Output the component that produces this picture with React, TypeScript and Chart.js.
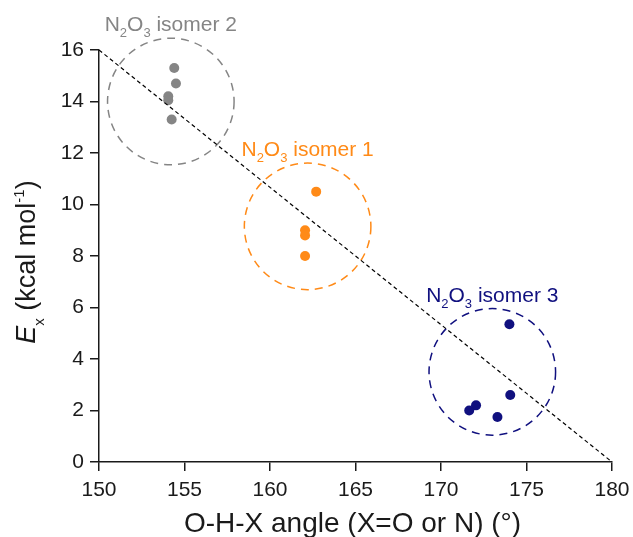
import React, { useEffect, useRef } from "react";
import { Chart, registerables } from "chart.js";

Chart.register(...registerables);

// ---- data ----
const isomer2X = [154.4, 154.5, 154.05, 154.05, 154.25];
const isomer2Y = [15.3, 14.7, 14.2, 14.05, 13.3];
const isomer1X = [162.7, 162.05, 162.05, 162.05];
const isomer1Y = [10.5, 9.0, 8.8, 8.0];
const isomer3X = [174.0, 174.05, 172.05, 171.65, 173.3];
const isomer3Y = [5.35, 2.6, 2.2, 2.0, 1.75];

const trendX = [150, 180];
const trendY = [16, 0];

const groupNames = ["isomer 2", "isomer 1", "isomer 3"];
const groupCenterX = [154.2, 162.2, 173.0];
const groupCenterY = [14.0, 9.15, 3.5];
const groupRadiusX = [3.7, 3.7, 3.7];

const xTitle = "O-H-X angle (X=O or N) (°)";

const GRAY = "#858585";
const ORANGE = "#ff8a17";
const NAVY = "#10107f";
const groupColors = [GRAY, ORANGE, NAVY];
const FONT = "'Liberation Sans', Arial, sans-serif";
const AXIS = "#1a1a1a";

const toPts = (xs: number[], ys: number[]) => xs.map((x, i) => ({ x, y: ys[i] }));

function drawSegments(ctx: CanvasRenderingContext2D, segs: { t: string; f: string; dy: number }[], x: number, y: number, centered: boolean) {
  let total = 0;
  for (const s of segs) {
    ctx.font = s.f;
    total += ctx.measureText(s.t).width;
  }
  let cx = centered ? x - total / 2 : x;
  for (const s of segs) {
    ctx.font = s.f;
    ctx.fillText(s.t, cx, y + s.dy);
    cx += ctx.measureText(s.t).width;
  }
}

const decorPlugin = {
  id: "decor",
  beforeDatasetsDraw(chart: any) {
    const { ctx, scales } = chart;
    const xs = scales.x, ys = scales.y;
    ctx.save();
    groupNames.forEach((name, i) => {
      const cx = xs.getPixelForValue(groupCenterX[i]);
      const cy = ys.getPixelForValue(groupCenterY[i]);
      const r = xs.getPixelForValue(groupCenterX[i] + groupRadiusX[i]) - cx;
      ctx.beginPath();
      ctx.setLineDash([8, 6]);
      ctx.lineWidth = 1.5;
      ctx.strokeStyle = groupColors[i];
      ctx.arc(cx, cy, r, 0, Math.PI * 2);
      ctx.stroke();
      ctx.setLineDash([]);
      ctx.fillStyle = groupColors[i];
      ctx.textBaseline = "alphabetic";
      ctx.textAlign = "left";
      const big = `21px ${FONT}`;
      const small = `13px ${FONT}`;
      drawSegments(
        ctx,
        [
          { t: "N", f: big, dy: 0 },
          { t: "2", f: small, dy: 6 },
          { t: "O", f: big, dy: 0 },
          { t: "3", f: small, dy: 6 },
          { t: " " + name, f: big, dy: 0 },
        ],
        cx,
        cy - r - 7,
        true
      );
    });
    ctx.restore();
  },
  afterDraw(chart: any) {
    const { ctx, chartArea } = chart;
    ctx.save();
    ctx.fillStyle = AXIS;
    ctx.textAlign = "left";
    ctx.textBaseline = "alphabetic";
    // x title
    drawSegments(ctx, [{ t: xTitle, f: `28px ${FONT}`, dy: 0 }], (chartArea.left + chartArea.right) / 2 - 3, 532, true);
    // y title (rotated)
    ctx.translate(35, (chartArea.top + chartArea.bottom) / 2 + 6);
    ctx.rotate(-Math.PI / 2);
    const big = `27px ${FONT}`;
    const small = `15px ${FONT}`;
    drawSegments(
      ctx,
      [
        { t: "E", f: `italic 27px ${FONT}`, dy: 0 },
        { t: "x", f: small, dy: 9 },
        { t: " (kcal mol", f: big, dy: 0 },
        { t: "-1", f: small, dy: -11 },
        { t: ")", f: big, dy: 0 },
      ],
      0,
      0,
      true
    );
    ctx.restore();
  },
};

export default function App() {
  const ref = useRef<HTMLCanvasElement>(null);
  useEffect(() => {
    if (!ref.current) return;
    const axisCommon = {
      type: "linear" as const,
      grid: { drawOnChartArea: false, drawTicks: true, tickLength: 9, color: AXIS, lineWidth: 1.5 },
      border: { display: true, color: AXIS, width: 1.5 },
    };
    const chart = new Chart(ref.current, {
      type: "scatter",
      data: {
        datasets: [
          {
            type: "line",
            data: toPts(trendX, trendY),
            borderColor: "#000",
            borderWidth: 1.2,
            borderDash: [4, 3],
            pointRadius: 0,
            fill: false,
          } as any,
          { data: toPts(isomer2X, isomer2Y), backgroundColor: GRAY, pointRadius: 5, borderWidth: 0 },
          { data: toPts(isomer1X, isomer1Y), backgroundColor: ORANGE, pointRadius: 5, borderWidth: 0 },
          { data: toPts(isomer3X, isomer3Y), backgroundColor: NAVY, pointRadius: 5, borderWidth: 0 },
        ],
      },
      options: {
        responsive: false,
        animation: false,
        layout: { padding: { top: 50, right: 21, left: 0, bottom: 0 } },
        plugins: { legend: { display: false }, tooltip: { enabled: false } },
        scales: {
          x: {
            ...axisCommon,
            min: 150,
            max: 180,
            ticks: { stepSize: 5, padding: 7, color: AXIS, font: { size: 21, family: FONT } },
            afterFit: (s: any) => {
              s.height = 75;
              s.paddingLeft = 0;
              s.paddingRight = 0;
            },
          },
          y: {
            ...axisCommon,
            min: 0,
            max: 16,
            ticks: { stepSize: 2, padding: 6, color: AXIS, font: { size: 21, family: FONT } },
            afterFit: (s: any) => {
              s.width = 99;
              s.paddingTop = 0;
              s.paddingBottom = 0;
            },
          },
        },
      } as any,
      plugins: [decorPlugin],
    });
    return () => chart.destroy();
  }, []);
  return (
    <div style={{ position: "fixed", left: 0, top: 0, width: 633, height: 537, background: "#fff" }}>
      <canvas ref={ref} width={633} height={537} />
    </div>
  );
}
